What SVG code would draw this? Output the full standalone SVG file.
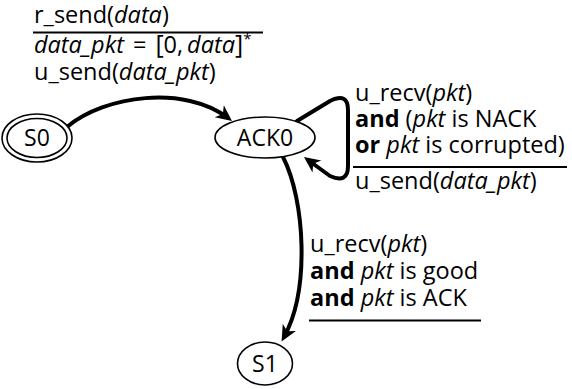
<svg xmlns="http://www.w3.org/2000/svg" width="572" height="389" viewBox="0 0 572 389">
<style>
  text { font-family: "Open Sans", "Noto Sans", "DejaVu Sans", sans-serif; font-size: 23.5px; fill: #000; }
  .i { font-style: italic; }
  .b { font-weight: bold; }
  .node { fill: #fff; stroke: #000; stroke-width: 1.6; }
  .edge { fill: none; stroke: #000; stroke-width: 4; stroke-linecap: round; stroke-linejoin: round; }
  .rule { stroke: #000; stroke-width: 2; }
  .nlabel { text-anchor: middle; font-size: 23px; }
</style>
<defs>
  <marker id="arr" markerUnits="userSpaceOnUse" markerWidth="20" markerHeight="16" viewBox="-14 -8 20 16" refX="0" refY="0" orient="auto" overflow="visible">
    <path d="M5,0 L-11,-7.5 L-6.5,0 L-11,7.5 Z" fill="#000"/>
  </marker>
</defs>
<g id="connectors">
  <path class="edge" d="M67,127 C105,95 185,85 228,118" marker-end="url(#arr)"/>
  <path class="edge" d="M297,121 L330,101 Q348,92 348,110 L348,166 Q348,184 330,176 L308,160" marker-end="url(#arr)"/>
  <path class="edge" d="M283,157 C305,200 310,290 284,337" marker-end="url(#arr)"/>
</g>
<g id="S0">
  <ellipse class="node" cx="37" cy="138" rx="35" ry="24"/>
  <ellipse class="node" cx="37" cy="138" rx="30" ry="19.5"/>
  <text class="nlabel" x="37" y="146">S0</text>
</g>
<g id="ACK0">
  <ellipse class="node" cx="265" cy="137.5" rx="50" ry="20.5"/>
  <text class="nlabel" x="265" y="146">ACK0</text>
</g>
<g id="S1">
  <ellipse class="node" cx="265" cy="363.5" rx="27.5" ry="21.5"/>
  <text class="nlabel" x="265" y="372">S1</text>
</g>
<g id="label-S0-ACK0">
  <text x="34" y="23">r_send(<tspan class="i">data</tspan>)</text>
  <line class="rule" x1="33" y1="32.5" x2="263" y2="32.5"/>
  <text x="34" y="53"><tspan class="i">data_pkt</tspan><tspan dx="9">=</tspan><tspan dx="9" font-size="25">[</tspan>0,<tspan class="i" dx="4">data</tspan><tspan font-size="25">]</tspan><tspan font-size="15" dy="-9">*</tspan></text>
  <text x="34" y="80">u_send(<tspan class="i">data_pkt</tspan>)</text>
</g>
<g id="label-ACK0-loop">
  <text x="355" y="101">u_recv(<tspan class="i">pkt</tspan>)</text>
  <text x="355" y="127"><tspan class="b">and</tspan> (<tspan class="i">pkt</tspan> is NACK</text>
  <text x="355" y="153"><tspan class="b">or</tspan> <tspan class="i">pkt</tspan> is corrupted)</text>
  <line class="rule" x1="353" y1="167" x2="567" y2="167"/>
  <text x="355" y="189">u_send(<tspan class="i">data_pkt</tspan>)</text>
</g>
<g id="label-ACK0-S1">
  <text x="310" y="252">u_recv(<tspan class="i">pkt</tspan>)</text>
  <text x="310" y="279"><tspan class="b">and</tspan> <tspan class="i">pkt</tspan> is good</text>
  <text x="310" y="306"><tspan class="b">and</tspan> <tspan class="i">pkt</tspan> is ACK</text>
  <line class="rule" x1="309" y1="320.5" x2="481" y2="320.5"/>
</g>
</svg>
